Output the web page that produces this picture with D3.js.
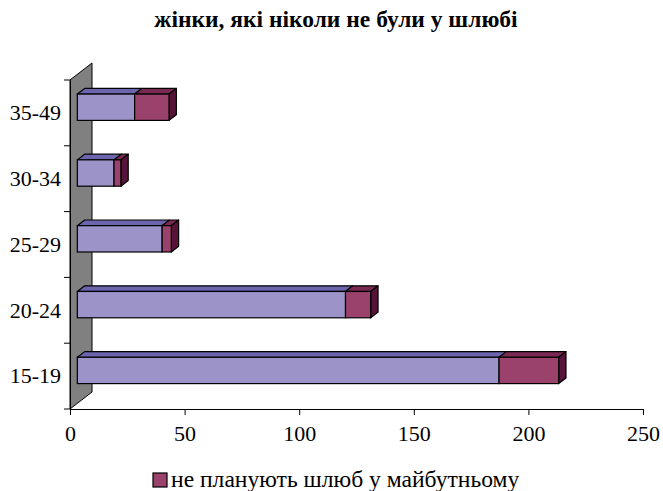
<!DOCTYPE html>
<html><head><meta charset="utf-8">
<script src="https://cdn.jsdelivr.net/npm/d3@7"></script>
<style>body{margin:0;background:#fff}svg{display:block}</style>
</head><body><svg id="c" width="663" height="491"></svg>
<script>
const title = "жінки, які ніколи не були у шлюбі";
const categories = ["15-19","20-24","25-29","30-34","35-49"];
const planned = [184,117,37,16,25];
const notPlanned = [26,11,4,3,15];
const xTicks = [0,50,100,150,200,250];
const legendLabel = "не планують шлюб у майбутньому";

const FONT = "'Liberation Serif', 'Times New Roman', serif";
const svg = d3.select("#c");
const x0 = 70, x1 = 643, yB = 409, yT = 80;
const depth = {dx:22, dy:-17};
const x = d3.scaleLinear().domain([0,250]).range([x0,x1]);
const y = d3.scaleBand().domain(categories).range([yB,yT]).paddingInner(0.6).paddingOuter(0.3);
const yOuter = d3.scaleBand().domain(categories).range([yB,yT]);

// wall
svg.append("path")
  .attr("d",`M${x0},${yB}L${x0},${yT}L${x0+depth.dx},${yT+depth.dy}L${x0+depth.dx},${yB+depth.dy}Z`)
  .attr("fill","#808080").attr("stroke","#000").attr("stroke-width",1);

// axes
const xAxis = d3.axisBottom(x).tickValues(xTicks).tickSize(6).tickSizeOuter(0);
const gx = svg.append("g").attr("transform",`translate(0,${yB})`).call(xAxis);
gx.select(".domain").attr("stroke","#000");
gx.selectAll(".tick line").attr("stroke","#000");
gx.selectAll("text").style("font-family",FONT).style("font-size","22px").attr("y",0).attr("dy",null).attr("transform","translate(0,32)").attr("fill","#000");

const gy = svg.append("g").attr("transform",`translate(${x0},0)`)
  .call(d3.axisLeft(yOuter).tickSize(0));
gy.select(".domain").attr("stroke","#000");
gy.selectAll("text").style("font-family",FONT).style("font-size","22px").attr("x",-9).attr("dy","0.33em").attr("fill","#000");
const bounds = categories.map(c=>yOuter(c)).concat([yB]);
svg.append("g").selectAll("line").data(bounds).join("line")
  .attr("x1",x0-6).attr("x2",x0).attr("y1",d=>d).attr("y2",d=>d)
  .attr("stroke","#000");

// bars
const fx = depth.dx/3, fy = depth.dy/3;
const bx = depth.dx/3, by = depth.dy/3;
const colors = [
  {front:"#9c94c8", top:"#6c64ac", side:"#4a4480"},
  {front:"#9a426c", top:"#7a2a52", side:"#561438"}
];
function drawBox(g, xa, xb, yt, h, col, sideOn){
  const X0 = xa+fx, X1 = xb+fx, Y0 = yt+fy, Y1 = yt+fy+h;
  g.append("path").attr("d",`M${X0},${Y0}L${X0+bx},${Y0+by}L${X1+bx},${Y0+by}L${X1},${Y0}Z`)
    .attr("fill",col.top).attr("stroke","#000").attr("stroke-width",1.2).attr("stroke-linejoin","round");
  if(sideOn) g.append("path").attr("d",`M${X1},${Y0}L${X1+bx},${Y0+by}L${X1+bx},${Y1+by}L${X1},${Y1}Z`)
    .attr("fill",col.side).attr("stroke","#000").attr("stroke-width",1.2).attr("stroke-linejoin","round");
  g.append("rect").attr("x",X0).attr("y",Y0).attr("width",X1-X0).attr("height",h)
    .attr("fill",col.front).attr("stroke","#000").attr("stroke-width",1.2);
}
const bars = svg.append("g");
categories.slice().reverse().forEach((c)=>{
  const i = categories.indexOf(c);
  const g = bars.append("g");
  const yt = y(c), h = y.bandwidth();
  drawBox(g, x(0), x(planned[i]), yt, h, colors[0], false);
  drawBox(g, x(planned[i]), x(planned[i]+notPlanned[i]), yt, h, colors[1], true);
});

// title
svg.append("text").attr("x",336).attr("y",27).attr("text-anchor","middle")
  .style("font-family",FONT).style("font-size","23.5px").style("font-weight","bold").attr("fill","#000").text(title);

// legend
const lg = svg.append("g").attr("transform","translate(153,473)");
lg.append("rect").attr("x",0).attr("y",0).attr("width",14).attr("height",14)
  .attr("fill",colors[1].front).attr("stroke","#000").attr("stroke-width",1.2);
lg.append("text").attr("x",18).attr("y",14).style("font-family",FONT).style("font-size","23.6px").attr("fill","#000").text(legendLabel);
</script></body></html>
